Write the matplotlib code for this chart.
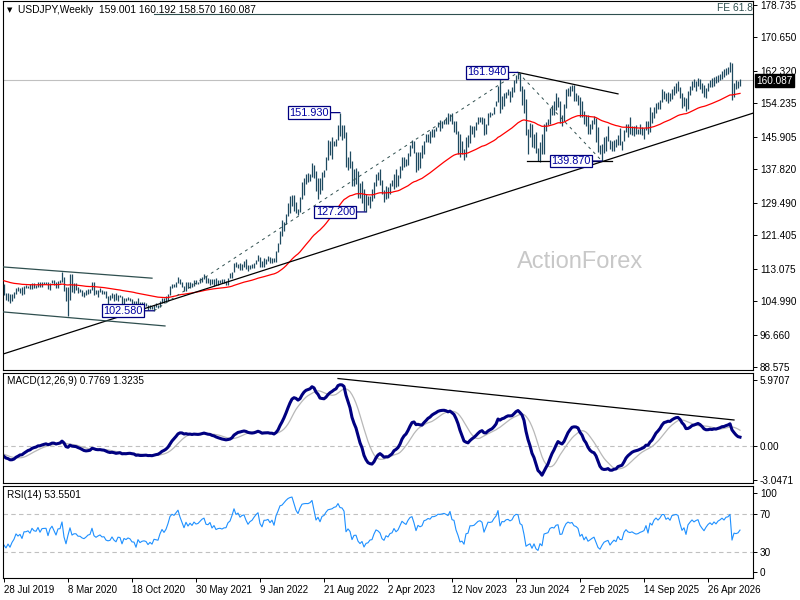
#USDJPY weekly chart with 55 EMA, MACD and RSI panels

import numpy as np
import pandas as pd
import matplotlib
matplotlib.use("Agg")
import matplotlib.pyplot as plt

plt.rcParams['font.family'] = ['Liberation Sans', 'DejaVu Sans']

#weekly bars, the first one is the week of 28 Jul 2019
week_high = [
    109.32, 106.98, 106.98, 106.73, 106.69, 107.23, 108.26, 108.48, 108.18, 108.47,
    108.63, 108.94, 108.82, 109.29, 109.48, 109.49, 109.01, 109.67, 109.73, 109.70,
    109.69, 109.67, 109.72, 109.59, 110.29, 110.20, 109.72, 110.02, 110.14, 112.23,
    111.05, 108.50, 108.51, 111.71, 111.71, 109.38, 109.38, 108.62, 108.06, 107.70,
    107.23, 107.76, 107.98, 108.08, 109.85, 109.85, 107.64, 107.65, 108.16, 107.82,
    107.41, 107.39, 106.24, 106.48, 107.05, 106.88, 106.95, 106.55, 106.50, 106.19,
    105.69, 105.80, 106.11, 105.75, 105.53, 105.07, 104.94, 105.65, 104.73, 104.76,
    104.75, 104.52, 104.09, 103.90, 103.82, 104.10, 104.40, 104.08, 104.94, 105.77,
    105.67, 106.22, 106.69, 108.64, 109.23, 109.36, 109.86, 110.97, 110.54, 109.80,
    108.86, 109.70, 109.69, 109.79, 109.44, 110.20, 110.33, 109.85, 110.82, 110.98,
    111.66, 111.18, 110.63, 110.60, 110.59, 110.37, 110.80, 110.26, 110.25, 110.42,
    110.45, 110.08, 110.79, 112.07, 112.25, 114.47, 114.70, 114.30, 114.44, 114.19,
    114.97, 115.52, 113.95, 113.95, 114.26, 114.48, 115.19, 116.35, 115.85, 115.06,
    115.68, 115.48, 116.34, 115.86, 115.76, 115.77, 117.36, 119.39, 122.44, 125.09,
    124.70, 126.68, 129.40, 131.25, 131.35, 131.35, 129.77, 127.85, 130.99, 134.56,
    135.59, 136.71, 137.00, 136.57, 139.39, 138.88, 137.46, 135.59, 135.58, 137.23,
    137.70, 140.80, 144.99, 144.96, 145.90, 144.92, 145.43, 148.86, 151.93, 148.85,
    148.84, 147.19, 140.79, 142.25, 139.89, 137.86, 138.18, 137.48, 134.40, 134.78,
    132.87, 131.58, 131.12, 131.20, 132.90, 134.77, 136.53, 137.10, 137.91, 135.11,
    132.65, 133.75, 133.46, 134.49, 135.13, 136.56, 137.77, 136.30, 138.75, 140.93,
    140.93, 140.46, 141.91, 143.87, 145.07, 144.90, 142.24, 142.07, 142.01, 143.89,
    144.98, 146.56, 146.64, 147.37, 147.87, 147.95, 148.46, 149.71, 150.16, 149.83,
    150.08, 150.78, 151.72, 151.59, 151.92, 149.81, 149.74, 147.43, 146.59, 144.96,
    142.81, 145.98, 146.41, 148.81, 148.70, 148.58, 149.58, 150.89, 150.77, 150.84,
    150.48, 149.16, 151.86, 151.97, 151.95, 153.38, 154.79, 158.44, 160.21, 155.95,
    156.79, 157.19, 157.72, 157.20, 158.26, 159.94, 161.28, 161.94, 161.76, 158.47,
    157.86, 155.21, 147.90, 149.39, 149.10, 146.55, 147.21, 143.09, 144.49, 146.49,
    149.12, 149.55, 150.32, 153.19, 153.88, 154.71, 156.75, 155.89, 154.81, 151.23,
    153.96, 157.93, 158.08, 158.55, 158.87, 158.88, 156.75, 156.26, 155.89, 154.80,
    152.44, 151.22, 151.29, 149.20, 150.16, 151.21, 150.49, 148.28, 143.87, 144.03,
    145.92, 146.18, 148.65, 145.07, 144.83, 145.10, 145.48, 146.28, 148.03, 144.93,
    147.68, 149.18, 149.00, 150.91, 148.50, 148.51, 148.78, 147.88, 149.13, 148.40,
    148.20, 149.96, 149.83, 153.27, 152.07, 153.28, 154.45, 154.48, 155.04, 157.89,
    157.20, 156.90, 157.00, 156.80, 157.90, 158.60, 159.40, 159.90, 158.40, 156.80,
    155.90, 155.60, 157.20, 158.60, 159.70, 160.20, 159.80, 160.50, 160.40, 159.20,
    158.90, 158.10, 159.30, 160.10, 160.60, 160.70, 161.00, 161.30, 161.60, 162.40,
    162.90, 163.10, 163.30, 164.50, 164.20, 159.40, 160.10, 159.80, 160.192]
week_low = [
    106.49, 105.26, 105.05, 104.46, 104.97, 105.74, 106.73, 107.46, 106.96, 106.48,
    106.82, 108.31, 108.25, 107.88, 108.07, 108.24, 108.25, 108.62, 108.42, 108.43,
    109.18, 109.19, 107.88, 107.64, 109.43, 109.06, 108.31, 108.33, 109.56, 109.71,
    107.51, 105.07, 101.18, 105.15, 107.16, 106.92, 107.75, 106.92, 107.24, 106.36,
    106.01, 106.48, 106.81, 107.10, 107.64, 106.58, 106.67, 106.07, 107.21, 106.64,
    106.67, 105.68, 104.19, 105.29, 105.76, 105.10, 105.20, 104.92, 106.00, 104.28,
    104.00, 104.94, 105.23, 105.02, 104.34, 104.03, 103.18, 103.19, 103.66, 103.65,
    103.66, 103.69, 102.88, 103.10, 103.00, 102.58, 103.52, 103.33, 103.53, 104.62,
    104.41, 104.95, 104.91, 106.43, 108.33, 108.60, 108.41, 109.56, 109.35, 108.61,
    107.48, 107.60, 108.34, 108.34, 108.56, 108.66, 109.19, 109.19, 109.54, 109.71,
    110.42, 109.54, 109.60, 109.06, 109.36, 108.72, 109.12, 109.11, 109.46, 109.59,
    109.58, 109.11, 109.11, 110.72, 110.82, 112.17, 113.41, 113.26, 112.72, 112.73,
    113.58, 113.05, 112.53, 113.00, 113.14, 113.13, 114.28, 115.00, 113.48, 113.47,
    113.47, 114.15, 114.89, 114.57, 114.41, 114.65, 114.84, 117.26, 119.11, 121.28,
    122.38, 124.28, 126.28, 126.95, 128.62, 127.52, 126.95, 126.36, 127.16, 130.52,
    131.49, 134.27, 134.74, 134.95, 136.02, 135.57, 132.51, 130.40, 131.73, 132.55,
    135.81, 137.57, 140.24, 141.50, 140.34, 143.52, 143.53, 145.21, 146.21, 145.10,
    145.69, 138.47, 137.68, 138.06, 133.61, 133.64, 134.07, 130.58, 130.78, 129.51,
    127.46, 127.20, 129.02, 128.08, 129.80, 130.78, 133.66, 135.26, 133.97, 131.56,
    129.64, 130.40, 130.63, 131.62, 133.55, 133.02, 133.50, 133.74, 135.59, 137.74,
    138.43, 138.76, 138.85, 141.19, 143.22, 141.99, 137.24, 137.68, 138.06, 140.68,
    141.53, 144.67, 144.55, 144.44, 145.91, 145.90, 147.32, 148.32, 147.28, 148.17,
    149.22, 149.18, 149.06, 149.79, 149.20, 147.15, 146.67, 141.62, 140.97, 141.73,
    140.25, 140.81, 143.42, 144.34, 146.65, 145.90, 147.62, 149.13, 149.66, 149.22,
    146.48, 146.63, 148.93, 150.81, 151.23, 151.54, 153.58, 154.50, 151.86, 152.86,
    153.60, 155.66, 156.38, 154.55, 155.72, 157.15, 159.24, 160.29, 157.39, 153.90,
    151.94, 146.41, 141.68, 145.77, 143.44, 143.23, 141.77, 139.85, 139.58, 141.65,
    141.65, 147.34, 148.81, 149.10, 151.43, 151.29, 152.62, 153.28, 149.47, 148.65,
    149.88, 153.08, 156.03, 156.02, 157.25, 154.78, 154.79, 153.73, 150.94, 150.93,
    149.13, 148.57, 146.54, 146.53, 147.90, 149.12, 144.56, 142.05, 141.61, 139.87,
    141.97, 142.36, 144.79, 142.80, 142.36, 142.38, 143.25, 143.88, 143.94, 142.68,
    144.79, 146.99, 145.85, 146.62, 146.25, 146.22, 146.59, 146.55, 146.73, 146.33,
    145.48, 147.57, 146.59, 147.07, 149.38, 150.71, 151.72, 152.82, 152.82, 154.46,
    155.30, 154.80, 154.40, 154.90, 155.20, 156.40, 156.90, 157.30, 155.60, 153.20,
    153.50, 152.30, 152.90, 156.30, 157.60, 158.30, 157.40, 158.50, 157.70, 156.80,
    155.80, 155.60, 157.20, 158.20, 158.40, 158.50, 159.20, 159.50, 160.10, 160.40,
    160.90, 161.20, 161.50, 162.10, 155.10, 155.90, 157.80, 158.00, 158.570]
week_close = [
    106.59, 105.68, 106.38, 105.38, 106.28, 106.92, 108.09, 107.56, 107.93, 106.92,
    108.43, 108.45, 108.66, 108.17, 109.26, 108.78, 108.67, 109.50, 108.59, 109.38,
    109.43, 109.45, 108.10, 109.48, 110.13, 109.27, 108.35, 109.75, 109.79, 111.61,
    107.89, 105.37, 107.94, 110.80, 107.94, 108.47, 108.46, 107.54, 107.51, 106.91,
    106.64, 107.07, 107.62, 107.80, 109.58, 107.38, 106.87, 107.23, 107.50, 106.93,
    106.98, 106.04, 105.83, 105.93, 106.59, 105.80, 105.37, 106.23, 106.16, 104.57,
    105.59, 105.30, 105.61, 105.40, 104.70, 104.65, 103.35, 104.61, 103.86, 104.09,
    104.16, 104.02, 103.32, 103.64, 103.25, 103.94, 103.86, 103.77, 104.68, 105.39,
    104.94, 105.46, 106.55, 108.34, 109.03, 108.88, 109.67, 110.61, 109.66, 108.80,
    107.89, 109.30, 108.60, 109.36, 108.96, 109.86, 109.51, 109.66, 110.21, 110.75,
    111.05, 110.14, 110.07, 110.55, 109.72, 110.22, 109.59, 109.77, 109.83, 109.72,
    109.91, 109.93, 110.74, 111.05, 112.20, 114.21, 113.50, 113.95, 113.42, 113.88,
    114.04, 113.38, 112.83, 113.40, 113.68, 114.38, 115.06, 115.60, 114.18, 113.67,
    115.22, 115.24, 115.45, 115.00, 115.56, 114.84, 117.32, 119.17, 122.07, 122.52,
    124.31, 126.42, 128.52, 129.84, 130.53, 129.23, 127.87, 127.11, 130.86, 134.44,
    135.01, 135.21, 135.19, 136.11, 138.56, 136.13, 133.26, 134.98, 133.46, 136.92,
    137.60, 140.24, 142.40, 142.93, 143.35, 144.71, 145.26, 148.72, 147.58, 147.47,
    146.61, 138.74, 140.37, 139.13, 134.31, 136.58, 136.67, 132.87, 131.12, 132.10,
    127.86, 129.58, 129.88, 131.19, 131.36, 134.11, 136.36, 135.84, 134.84, 131.73,
    130.72, 132.85, 132.17, 133.80, 134.13, 136.28, 134.83, 135.71, 137.99, 140.60,
    139.91, 139.37, 141.82, 143.71, 144.31, 142.08, 138.79, 141.82, 141.17, 141.76,
    144.94, 145.39, 146.43, 146.20, 147.82, 147.85, 148.37, 149.35, 149.32, 149.56,
    149.86, 149.66, 149.39, 151.52, 149.62, 149.45, 146.81, 144.95, 142.16, 142.42,
    141.00, 144.63, 144.86, 148.15, 148.16, 148.38, 149.28, 150.20, 150.51, 150.10,
    147.06, 149.04, 151.43, 151.35, 151.63, 153.27, 154.64, 158.33, 152.99, 155.79,
    155.68, 156.97, 157.26, 156.73, 157.40, 159.80, 160.87, 160.75, 157.95, 157.46,
    153.76, 146.54, 147.14, 147.59, 144.32, 146.20, 142.30, 140.85, 143.88, 142.20,
    148.70, 149.15, 149.55, 152.28, 152.97, 152.64, 154.40, 154.76, 149.79, 150.00,
    153.67, 156.48, 157.78, 157.28, 157.74, 156.32, 156.01, 155.20, 151.41, 152.34,
    149.27, 150.64, 148.04, 148.64, 149.31, 149.82, 146.93, 143.54, 142.16, 143.68,
    144.93, 145.37, 145.68, 142.98, 144.02, 144.86, 144.07, 146.09, 144.54, 144.45,
    147.38, 148.59, 147.69, 147.42, 147.70, 147.24, 146.90, 147.05, 147.43, 147.66,
    147.96, 149.50, 147.47, 151.20, 150.60, 152.86, 154.00, 153.41, 154.55, 156.39,
    156.40, 155.20, 155.90, 155.30, 157.60, 157.90, 158.20, 158.00, 156.10, 154.20,
    155.10, 153.00, 156.80, 158.10, 159.30, 158.70, 159.40, 159.80, 158.20, 157.30,
    156.50, 157.80, 158.90, 159.60, 159.10, 160.20, 159.70, 160.80, 161.30, 162.00,
    161.60, 162.70, 162.90, 163.90, 156.20, 158.90, 158.70, 159.00, 160.087]

#closes before the first bar, only used to warm up the indicators
warmup_close = [
    109.55, 110.65, 110.66, 110.02, 110.76, 110.47, 112.39, 111.40, 111.05, 111.25,
    110.86, 110.49, 111.24, 111.07, 110.99, 112.06, 112.59, 113.70, 113.87, 112.21,
    112.54, 111.91, 113.20, 113.83, 112.83, 112.96, 113.47, 112.74, 113.36, 111.23,
    110.28, 108.50, 108.46, 109.77, 109.54, 109.51, 110.49, 110.69, 111.93, 111.17,
    111.46, 109.94, 110.86, 111.70, 112.02, 111.92, 111.50, 111.07, 109.92, 110.08,
    109.30, 108.27, 108.19, 108.56, 107.30, 107.86, 108.47, 107.73, 108.67]

first_week = "2019-07-28"
tick_every = 32
last_price = 160.087
title_text = "USDJPY,Weekly  159.001 160.192 158.570 160.087"

price_ticks = [178.735, 170.650, 162.320, 154.235, 145.905, 137.820,
               129.490, 121.405, 113.075, 104.990, 96.660, 88.575]
macd_ticks = [5.9707, 0.0, -3.0471]
macd_tick_labels = ["5.9707", "0.00", "-3.0471"]

#swing highs / lows that carry a price box
swing_bars = [75, 168, 181, 257, 299]
swing_prices = [102.58, 151.93, 127.20, 161.94, 139.87]
swing_labels = ["102.580", "151.930", "127.200", "161.940", "139.870"]

#Fibonacci expansion: 102.58 -> 161.94 -> 139.87, 61.8% level
fe_bars = [75, 257, 299]
fe_prices = [102.58, 161.94, 139.87]
fe_level = fe_prices[2] + 0.618 * (fe_prices[1] - fe_prices[0])

#hand drawn lines (bar index, value)
trend_bars = [-0.5, 374.5]
trend_prices = [91.8, 151.8]
chan_up_bars = [-0.5, 74]
chan_up_prices = [113.5, 110.7]
chan_lo_bars = [-0.5, 80.5]
chan_lo_prices = [102.3, 98.8]
top_line_bars = [257, 307]
top_line_prices = [161.94, 156.6]
base_line_bars = [261.5, 304]
base_line_prices = [139.87, 139.87]
macd_line_bars = [167, 365]
macd_line_vals = [6.1, 2.35]

bar_color = '#1f4a60'
slate = '#2F4F4F'

#indicators on the closes (warm-up first, then cut it off)
closes = pd.Series(warmup_close + week_close)
n0 = len(warmup_close)
ema55 = closes.ewm(span=55, adjust=False).mean()
macd = closes.ewm(span=12, adjust=False).mean() - closes.ewm(span=26, adjust=False).mean()
signal = macd.rolling(9).mean()
delta = closes.diff()
gain = delta.clip(lower=0).ewm(alpha=1 / 14, adjust=False).mean()
loss = (-delta.clip(upper=0)).ewm(alpha=1 / 14, adjust=False).mean()
rsi = 100 - 100 / (1 + gain / loss)

ema55 = ema55.values[n0:]
macd = macd.values[n0:]
signal = signal.values[n0:]
rsi = rsi.values[n0:]

x = np.arange(len(week_close))
dates = pd.date_range(first_week, periods=len(week_close), freq='7D')

fig = plt.figure(figsize=(8, 6), dpi=100)
ax = fig.add_axes([3 / 800, 1 - 370 / 600, 750 / 800, 369 / 600])
axm = fig.add_axes([3 / 800, 1 - 483 / 600, 750 / 800, 110 / 600], sharex=ax)
axr = fig.add_axes([3 / 800, 1 - 578 / 600, 750 / 800, 92 / 600], sharex=ax)

for a in (ax, axm, axr):
    for s in a.spines.values():
        s.set_linewidth(0.8)
    a.yaxis.tick_right()
    a.tick_params(axis='y', labelsize=7.2, length=3, width=0.7, pad=2, direction='out')
    a.tick_params(axis='x', labelbottom=False, length=0)

#main price panel
ax.axhline(last_price, color='#C0C0C0', lw=0.8, zorder=1)
ax.vlines(x, week_low, week_high, color=bar_color, lw=0.9, zorder=3)
ax.plot(x, ema55, color='red', lw=0.9, zorder=4)

ax.plot(trend_bars, trend_prices, color='black', lw=0.9, zorder=5)
ax.plot(chan_up_bars, chan_up_prices, color=slate, lw=0.9, zorder=5)
ax.plot(chan_lo_bars, chan_lo_prices, color=slate, lw=0.9, zorder=5)
ax.plot(top_line_bars, top_line_prices, color='black', lw=0.9, zorder=5)
ax.plot(base_line_bars, base_line_prices, color='black', lw=0.9, zorder=5)
ax.plot(fe_bars, fe_prices, color=slate, lw=0.7, ls=(0, (3, 4)), zorder=5)
ax.plot([fe_bars[0], 374.5], [fe_level, fe_level], color=slate, lw=0.8, zorder=5)
ax.text(374.2, fe_level + 1.45, "FE 61.8", ha='right', va='center', fontsize=7.4, color=slate)

for b, p, lab in zip(swing_bars, swing_prices, swing_labels):
    ax.annotate(lab, xy=(b, p), xytext=(-8, 0), textcoords='offset points',
                ha='right', va='center', fontsize=7.8, color='#0000A0', zorder=7,
                bbox=dict(boxstyle='square,pad=0.12', fc='white', ec='#000080', lw=0.9),
                arrowprops=dict(arrowstyle='-', color='#000080', lw=0.9,
                                shrinkA=0, shrinkB=0))

ax.text(0.769, 0.293, "ActionForex", transform=ax.transAxes, fontsize=17,
        color='#C8C8C8', ha='center', va='center', zorder=0)
ax.text(4 / 750, 1 - 9 / 369, "\u25BC", transform=ax.transAxes, fontsize=5,
        family='DejaVu Sans', va='center')
ax.text(15 / 750, 1 - 9 / 369, title_text, transform=ax.transAxes, fontsize=7.4, va='center')

ax.set_xlim(-0.5, 374.5)
ax.set_ylim(87.83, 179.73)
ax.set_yticks(price_ticks)
ax.set_yticklabels(["%.3f" % v for v in price_ticks])
ax.annotate("%.3f" % last_price, xy=(1, last_price), xycoords=('axes fraction', 'data'),
            xytext=(2.5, -0.5), textcoords='offset points', ha='left', va='center',
            fontsize=7.2, color='white', annotation_clip=False, zorder=10,
            bbox=dict(boxstyle='square,pad=0.12', fc='black', ec='black'))

#MACD panel
axm.axhline(0, color='#C0C0C0', lw=0.8, ls=(0, (4, 3)))
axm.plot(x, signal, color='#B8B8B8', lw=0.9)
axm.plot(x, macd, color='#000080', lw=2.2)
axm.plot(macd_line_bars, macd_line_vals, color='black', lw=0.9)
axm.set_ylim(-3.35, 6.6)
axm.set_yticks(macd_ticks)
axm.set_yticklabels(macd_tick_labels)
axm.text(4 / 750, 1 - 8 / 110, "MACD(12,26,9) %.4f %.4f" % (0.7769, 1.3235),
         transform=axm.transAxes, fontsize=7.2, va='center')

#RSI panel
for lvl in (70, 30):
    axr.axhline(lvl, color='#C0C0C0', lw=0.8, ls=(0, (4, 3)))
axr.plot(x, rsi, color='#1E90FF', lw=0.8)
axr.set_ylim(1.9, 100.3)
axr.set_yticks([8.3, 30, 70, 92.8])
axr.set_yticklabels(['0', '30', '70', '100'])
axr.text(4 / 750, 1 - 9 / 92, "RSI(14) 53.5501", transform=axr.transAxes,
         fontsize=7.2, va='center')

ticks = list(range(0, len(week_close), tick_every))
axr.set_xticks(ticks)
axr.set_xticklabels(["%d %s" % (dates[t].day, dates[t].strftime('%b %Y')) for t in ticks],
                    ha='left')
axr.tick_params(axis='x', labelbottom=True, labelsize=7, length=3, width=0.7, pad=2)

fig.savefig("out.png", dpi=100)
